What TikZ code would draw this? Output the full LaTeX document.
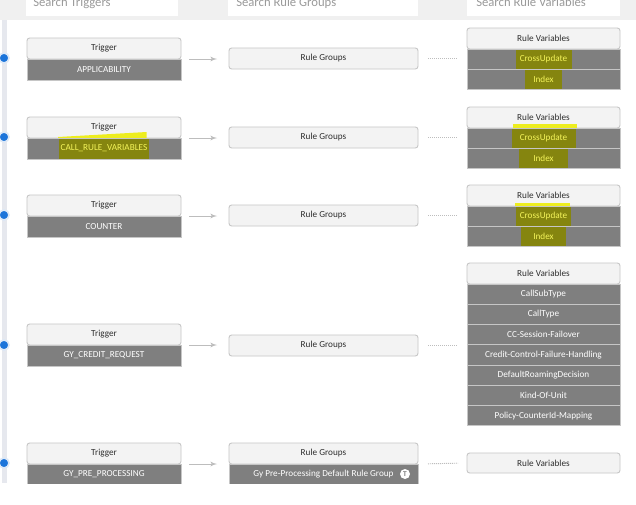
\documentclass[tikz,border=0pt]{standalone}
\usepackage{fontspec}
\setmainfont{Carlito}
\usetikzlibrary{arrows,positioning}
\definecolor{topfill}{HTML}{F0F0F0}
\definecolor{searchtext}{HTML}{9A9A9A}
\definecolor{barfill}{HTML}{E6E8EE}
\definecolor{boxline}{HTML}{C6C6C6}
\definecolor{headfill}{HTML}{F3F3F3}
\definecolor{headtext}{HTML}{2E2E2E}
\definecolor{rowfill}{HTML}{7F7F7F}
\definecolor{flowline}{HTML}{BDBDBD}
\definecolor{dotblue}{HTML}{1B74DA}
\definecolor{dothalo}{HTML}{DCE8F7}
\definecolor{hlyellow}{HTML}{EDED1E}
\definecolor{hlolive}{HTML}{85850F}
\definecolor{hltext}{HTML}{F4F45A}
\begin{document}
\begin{tikzpicture}[x=0.75pt,y=-0.75pt,>=latex',
  box/.style={draw=boxline,line width=0.7pt,inner sep=0pt,outer sep=0pt,font=\fontsize{6.9}{7}\selectfont},
  head/.style={box,fill=headfill,rounded corners=2pt,minimum height=15.75pt,anchor=north west,text=headtext},
  row/.style={box,fill=rowfill,text=white,minimum height=15.75pt},
  varrow/.style={row,minimum height=15.2pt},
  trig/.style={minimum width=115.5pt},
  grp/.style={minimum width=141.75pt},
  var/.style={minimum width=114.75pt},
  search/.style={anchor=base west,inner sep=0pt,text=searchtext,font=\fontsize{9.5}{11}\selectfont},
  flow/.style={->,draw=flowline,line width=0.7pt,shorten <=6pt,shorten >=9pt},
  link/.style={draw=flowline,line width=0.7pt,dash pattern=on 0.75pt off 0.75pt,shorten <=7.5pt,shorten >=6.75pt},
  dot/.style={circle,fill=dotblue,draw=dothalo,line width=1.2pt,inner sep=0pt,minimum size=7.5pt},
  hl/.style={text=hltext,path picture={\fill[hlolive] ([xshift=-#1]path picture bounding box.north) rectangle ([xshift=#1]path picture bounding box.south);}}]
\useasboundingbox[fill=white] (0,0) rectangle (636,504);
\begin{scope}
\clip (0,0) rectangle (636,483);
\fill[topfill] (0,0) rectangle (636,20);
\fill[white] (26,0) rectangle (178,16);
\fill[white] (228,0) rectangle (418,16);
\fill[white] (467,0) rectangle (620,16);
\node[search] (qT) at (33,6) {Search Triggers};
\node[search] (qG) at (236,6) {Search Rule Groups};
\node[search] (qV) at (476,6) {Search Rule Variables};
\fill[barfill] (2,20) rectangle (7,483);

\node[dot] (d1) at (4,58) {};
\node[dot] (d2) at (4,137) {};
\node[dot] (d3) at (4,215) {};
\node[dot] (d4) at (4,345) {};
\node[dot] (d5) at (4,463) {};

\node[head,trig] (tA) at (27,38) {Trigger};
\node[row,trig,below=0pt of tA] (tA1) {APPLICABILITY};
\node[head,trig] (tB) at (27,117) {Trigger};
\fill[hlyellow] ([xshift=-34.5pt]tB.south) -- ([xshift=-34.5pt,yshift=0.75pt]tB.south) -- ([xshift=32pt,yshift=4.5pt]tB.south) -- ([xshift=32pt]tB.south) -- cycle;
\node[row,trig,hl=33.4pt,below=0pt of tB] (tB1) {CALL\_RULE\_VARIABLES};
\node[head,trig] (tC) at (27,195) {Trigger};
\node[row,trig,below=0pt of tC] (tC1) {COUNTER};
\node[head,trig] (tD) at (27,324) {Trigger};
\node[row,trig,below=0pt of tD] (tD1) {GY\_CREDIT\_REQUEST};
\node[head,trig] (tE) at (27,443) {Trigger};
\node[row,trig,below=0pt of tE] (tE1) {GY\_PRE\_PROCESSING};

\node[head,grp] (gA) at (229,48) {Rule Groups};
\node[head,grp] (gB) at (229,127) {Rule Groups};
\node[head,grp] (gC) at (229,205) {Rule Groups};
\node[head,grp] (gD) at (229,335) {Rule Groups};
\node[head,grp] (gE) at (229,443) {Rule Groups};
\node[row,grp,below=0pt of gE] (gE1) {Gy Pre-Processing Default Rule Group};
\node[circle,fill=white,inner sep=0pt,minimum size=7.5pt,text=rowfill,font=\fontsize{5.5}{6}\selectfont\bfseries] (tIcon) at (405,474) {T};

\node[head,var] (vA) at (467,28) {Rule Variables};
\node[varrow,var,hl=21pt,below=0pt of vA] (vA1) {CrossUpdate};
\node[varrow,var,hl=13.9pt,below=0pt of vA1] (vA2) {Index};
\node[head,var] (vB) at (467,107) {Rule Variables};
\fill[hlyellow] ([xshift=-22.9pt]vB.south) rectangle ([xshift=25.1pt,yshift=3pt]vB.south);
\node[varrow,var,hl=24pt,below=0pt of vB] (vB1) {CrossUpdate};
\node[varrow,var,hl=18.4pt,below=0pt of vB1] (vB2) {Index};
\node[head,var] (vC) at (467,185) {Rule Variables};
\fill[hlyellow] ([xshift=-21.4pt]vC.south) rectangle ([xshift=19.9pt,yshift=2.25pt]vC.south);
\node[varrow,var,hl=20.6pt,below=0pt of vC] (vC1) {CrossUpdate};
\node[varrow,var,hl=16.9pt,below=0pt of vC1] (vC2) {Index};
\node[head,var] (vD) at (467,263) {Rule Variables};
\node[varrow,var,below=0pt of vD] (vD1) {CallSubType};
\node[varrow,var,below=0pt of vD1] (vD2) {CallType};
\node[varrow,var,below=0pt of vD2] (vD3) {CC-Session-Failover};
\node[varrow,var,below=0pt of vD3] (vD4) {Credit-Control-Failure-Handling};
\node[varrow,var,below=0pt of vD4] (vD5) {DefaultRoamingDecision};
\node[varrow,var,below=0pt of vD5] (vD6) {Kind-Of-Unit};
\node[varrow,var,below=0pt of vD6] (vD7) {Policy-CounterId-Mapping};
\node[head,var,minimum height=15pt] (vE) at (467,453) {Rule Variables};

\draw[flow] (tA.south east) -- (tA.south east -| gA.west);
\draw[flow] (tB.south east) -- (tB.south east -| gB.west);
\draw[flow] (tC.south east) -- (tC.south east -| gC.west);
\draw[flow] (tD.south east) -- (tD.south east -| gD.west);
\draw[flow] (tE.south east) -- (tE.south east -| gE.west);
\draw[link] (gA.east) -- (gA.east -| vA.west);
\draw[link] (gB.east) -- (gB.east -| vB.west);
\draw[link] (gC.east) -- (gC.east -| vC.west);
\draw[link] (gD.east) -- (gD.east -| vD.west);
\draw[link] (gE.south east) -- (vE.west);
\end{scope}
\end{tikzpicture}
\end{document}
